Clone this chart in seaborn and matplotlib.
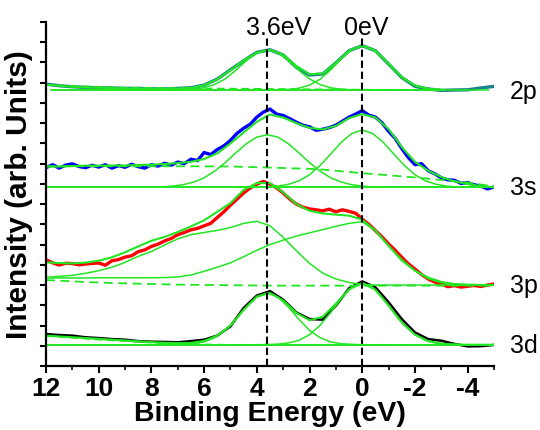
import numpy as np
import seaborn as sns
import matplotlib.pyplot as plt

# Grilles d'énergie de liaison (eV) sur lesquelles les courbes ont été lues
x_half = np.arange(12, -5.01, -0.5)       # 35 points
x_quarter = np.arange(12, -5.01, -0.25)   # 69 points
offsets = np.arange(4.8, -4.81, -0.4)     # 25 points autour de chaque pic
x_peak36 = 3.6 + offsets
x_peak0 = 0.0 + offsets

# --- 2p ---
data_2p = [13.93, 13.85, 13.80, 13.77, 13.75, 13.74, 13.72, 13.72, 13.70, 13.69,
           13.72, 13.75, 13.88, 14.18, 14.64, 15.09, 15.50, 15.63, 15.37, 14.76,
           14.38, 14.43, 14.98, 15.58, 15.83, 15.58, 14.92, 14.26, 13.82, 13.69,
           13.62, 13.64, 13.65, 13.74, 13.82]
fit_2p = [13.90, 13.85, 13.80, 13.77, 13.75, 13.73, 13.72, 13.71, 13.70, 13.70,
          13.71, 13.74, 13.87, 14.17, 14.62, 15.10, 15.48, 15.62, 15.38, 14.83,
          14.42, 14.45, 14.98, 15.58, 15.83, 15.58, 14.95, 14.28, 13.86, 13.70,
          13.65]
peakA_2p = [13.64, 13.64, 13.64, 13.64, 13.65, 13.68, 13.75, 13.91, 14.19, 14.61,
            15.09, 15.48, 15.63, 15.48, 15.09, 14.61, 14.19, 13.91, 13.75, 13.68,
            13.65, 13.64, 13.64, 13.64, 13.64]
peakB_2p = [13.64, 13.64, 13.64, 13.64, 13.65, 13.67, 13.73, 13.88, 14.17, 14.63,
            15.18, 15.64, 15.83, 15.64, 15.18, 14.63, 14.17, 13.88, 13.73, 13.67,
            13.65, 13.64, 13.64, 13.64, 13.64]
base_2p_x = [11.8, -3.1]
base_2p = [13.64, 13.64]
bg_2p_x = [12, 9, 6, 3.6, 1.8, 0, -2.5]
bg_2p = [13.88, 13.76, 13.72, 13.70, 13.68, 13.66, 13.64]

# --- 3s ---
data_3s = [9.80, 9.95, 9.78, 9.93, 9.99, 9.86, 9.80, 9.92, 9.83, 9.95,
           9.78, 9.90, 9.82, 9.97, 9.85, 9.78, 9.95, 9.88, 10.02, 9.92,
           10.08, 10.00, 10.22, 10.15, 10.55, 10.45, 10.70, 10.88, 11.15, 11.50,
           11.75, 11.95, 12.30, 12.55, 12.70, 12.45, 12.38, 12.22, 12.05, 11.90,
           11.82, 11.65, 11.70, 11.78, 11.90, 12.10, 12.30, 12.45, 12.62, 12.40,
           12.30, 12.02, 11.60, 11.25, 10.75, 10.30, 9.95, 10.00, 9.65, 9.50,
           9.30, 9.20, 9.18, 9.02, 9.07, 8.95, 8.90, 8.75, 8.85]
fit_3s = [9.85, 9.86, 9.88, 9.90, 9.90, 9.91, 9.91, 9.93, 9.95, 9.98,
          10.03, 10.09, 10.23, 10.51, 11.00, 11.54, 12.07, 12.43, 12.28, 12.00,
          11.77, 11.69, 11.87, 12.25, 12.45, 12.28, 11.71, 10.82, 10.09, 9.65,
          9.34, 9.12, 8.99, 8.89, 8.83]
peakA_3s = [8.83, 8.84, 8.85, 8.89, 8.96, 9.09, 9.30, 9.63, 10.05, 10.53,
            10.98, 11.31, 11.43, 11.31, 10.98, 10.53, 10.05, 9.63, 9.30, 9.09,
            8.96, 8.89, 8.85, 8.84, 8.83]
peakB_3s = [8.83, 8.83, 8.84, 8.85, 8.89, 8.98, 9.15, 9.45, 9.91, 10.47,
            11.05, 11.49, 11.66, 11.49, 11.05, 10.47, 9.91, 9.45, 9.15, 8.98,
            8.89, 8.85, 8.84, 8.83, 8.83]
base_3s_x = [12, -5]
base_3s = [8.83, 8.83]
bg_3s_x = [12, 6.5, 5, 3.6, 1.7, 0, -2, -4, -5]
bg_3s = [9.87, 9.87, 9.86, 9.81, 9.73, 9.53, 9.32, 9.07, 8.87]

# --- 3p ---
data_3p = [5.25, 5.10, 4.99, 5.08, 5.06, 5.00, 5.04, 5.07, 5.09, 4.98,
           5.20, 5.26, 5.38, 5.45, 5.65, 5.74, 5.91, 6.02, 6.18, 6.30,
           6.49, 6.60, 6.73, 6.80, 6.93, 7.05, 7.34, 7.62, 7.95, 8.25,
           8.55, 8.80, 8.99, 9.12, 8.99, 8.80, 8.55, 8.25, 8.00, 7.85,
           7.76, 7.72, 7.67, 7.75, 7.62, 7.72, 7.64, 7.55, 7.26, 7.00,
           6.69, 6.38, 6.03, 5.72, 5.37, 5.05, 4.79, 4.52, 4.30, 4.15,
           4.05, 3.92, 3.97, 3.90, 3.94, 3.98, 3.93, 4.00, 4.05]
fit_3p = [5.12, 5.09, 5.07, 5.11, 5.20, 5.37, 5.62, 5.91, 6.19, 6.38,
          6.62, 6.90, 7.20, 7.62, 8.05, 8.70, 9.04, 9.04, 8.58, 8.00,
          7.67, 7.54, 7.48, 7.43, 7.23, 6.69, 5.94, 5.25, 4.71, 4.33,
          4.13, 4.05, 4.02, 4.00, 4.00]
peakA_3p = [4.38, 4.43, 4.48, 4.58, 4.71, 4.88, 5.12, 5.42, 5.66, 5.98,
            6.28, 6.49, 6.60, 6.70, 6.84, 7.05, 7.15, 6.93, 6.36, 5.70,
            5.07, 4.59, 4.30, 4.13, 4.03, 4.00, 4.00, 4.00, 4.00, 4.00,
            4.00, 4.00, 4.00, 4.00, 4.00]
peakB_3p = [4.35, 4.35, 4.35, 4.35, 4.36, 4.36, 4.36, 4.36, 4.36, 4.37,
            4.40, 4.50, 4.68, 4.88, 5.10, 5.40, 5.72, 6.00, 6.22, 6.42,
            6.58, 6.74, 6.90, 7.05, 7.13, 6.69, 5.94, 5.20, 4.71, 4.38,
            4.17, 4.05, 4.00, 4.00, 4.00]
bg_3p_x = [12, 10.8, 9.5, 7, 3.3, -5]
bg_3p = [4.25, 4.17, 4.10, 4.02, 3.97, 3.97]

# --- 3d ---
data_3d = [1.58, 1.53, 1.50, 1.42, 1.38, 1.33, 1.30, 1.23, 1.20, 1.19,
           1.17, 1.23, 1.30, 1.50, 1.96, 2.87, 3.48, 3.70, 3.28, 2.65,
           2.32, 2.29, 2.98, 3.84, 4.18, 3.89, 3.15, 2.32, 1.66, 1.33,
           1.25, 1.09, 0.97, 0.98, 1.04]
fit_3d = [1.50, 1.46, 1.42, 1.38, 1.34, 1.30, 1.26, 1.22, 1.18, 1.15,
          1.13, 1.14, 1.24, 1.50, 2.00, 2.78, 3.43, 3.61, 3.24, 2.63,
          2.26, 2.43, 3.08, 3.79, 4.10, 3.77, 2.99, 2.15, 1.55, 1.23,
          1.10, 1.06, 1.05, 1.05, 1.05]
peakA_3d = [1.05, 1.05, 1.05, 1.05, 1.07, 1.10, 1.19, 1.40, 1.76, 2.30,
            2.91, 3.41, 3.61, 3.41, 2.91, 2.30, 1.76, 1.40, 1.19, 1.10,
            1.07, 1.05, 1.05, 1.05, 1.05]
peakB_3d = [1.05, 1.05, 1.05, 1.06, 1.08, 1.14, 1.27, 1.55, 2.01, 2.64,
            3.33, 3.89, 4.10, 3.89, 3.33, 2.64, 2.01, 1.55, 1.27, 1.14,
            1.08, 1.06, 1.05, 1.05, 1.05]
base_3d_x = [12, -5]
base_3d = [1.05, 1.05]
bg_3d_x = [12, 10, 8, 6.5, 5, -5]
bg_3d = [1.48, 1.30, 1.15, 1.08, 1.05, 1.05]

# Étiquettes
orbitals = ['2p', '3s', '3p', '3d']
orbital_y = [13.24, 8.50, 3.66, 0.69]
peak_positions = [3.6, 0.0]
peak_labels = ['3.6eV', '0eV']
peak_label_x = [3.18, -0.16]
xtick_values = [12, 10, 8, 6, 4, 2, 0, -2, -4]
xtick_labels = ['12', '10', '8', '6', '4', '2', '0', '-2', '-4']

# Style
sns.set_style('ticks')
plt.rcParams['font.family'] = ['Liberation Sans', 'DejaVu Sans']
plt.rcParams['text.color'] = 'black'
plt.rcParams['axes.labelcolor'] = 'black'

GREEN = '#22E622'
TEAL = '#1A7F8F'

fig = plt.figure(figsize=(5.4, 4.31), dpi=100)
ax = fig.add_axes([0.0852, 0.1485, 0.8296, 0.7981])


def trace(x, y, color, lw, **kw):
    sns.lineplot(x=np.asarray(x), y=np.asarray(y), ax=ax, color=color, lw=lw,
                 sort=False, estimator=None, **kw)


# Données expérimentales
trace(x_half, data_2p, TEAL, 2.4)
trace(x_quarter, data_3s, '#0000FF', 2.4)
trace(x_quarter, data_3p, '#FF0000', 2.4)
trace(x_half, data_3d, 'black', 1.8)

# Ajustements (verts)
trace(x_half[:len(fit_2p)], fit_2p, GREEN, 1.5)
trace(x_peak36, peakA_2p, GREEN, 1.1)
trace(x_peak0, peakB_2p, GREEN, 1.1)
trace(base_2p_x, base_2p, GREEN, 1.4)
trace(bg_2p_x, bg_2p, GREEN, 1.1, dashes=(5, 3))

trace(x_half, fit_3s, GREEN, 1.5)
trace(x_peak36, peakA_3s, GREEN, 1.1)
trace(x_peak0, peakB_3s, GREEN, 1.1)
trace(base_3s_x, base_3s, GREEN, 1.4)
trace(bg_3s_x, bg_3s, GREEN, 1.3, dashes=(5, 3))

trace(x_half, fit_3p, GREEN, 1.5)
trace(x_half, peakA_3p, GREEN, 1.1)
trace(x_half, peakB_3p, GREEN, 1.1)
trace(bg_3p_x, bg_3p, GREEN, 1.3, dashes=(5, 3))

trace(x_half, fit_3d, GREEN, 1.5)
trace(x_peak36, peakA_3d, GREEN, 1.1)
trace(x_peak0, peakB_3d, GREEN, 1.1)
trace(base_3d_x, base_3d, GREEN, 1.4)
trace(bg_3d_x, bg_3d, GREEN, 1.1, dashes=(5, 3))

# Lignes verticales aux positions des pics
for xp, lab, xl in zip(peak_positions, peak_labels, peak_label_x):
    ax.plot([xp, xp], [0, 16.2], color='black', lw=1.5, dashes=(3.5, 1.8), zorder=5)
    ax.text(xl, 16.4, lab, ha='center', va='baseline', fontsize=18,
            color='black', clip_on=False)

for lab, yy in zip(orbitals, orbital_y):
    ax.text(-5.6, yy, lab, ha='left', va='baseline', fontsize=18,
            color='black', clip_on=False)

ax.set_xlim(12, -5)
ax.set_ylim(0, 17)
ax.set_xticks(xtick_values)
ax.set_xticklabels(xtick_labels, fontweight='bold')
ax.set_xticks([11, 9, 7, 5, 3, 1, -1, -3, -5], minor=True)
ax.set_yticks(range(18))
ax.set_yticklabels([])

sns.despine(ax=ax)
for side in ['left', 'bottom']:
    ax.spines[side].set_linewidth(1.6)
    ax.spines[side].set_color('black')

ax.tick_params(axis='x', which='major', direction='out', length=5, width=1.5,
               labelsize=19, pad=2, colors='black')
ax.tick_params(axis='x', which='minor', direction='out', length=3, width=1.2,
               colors='black')
ax.tick_params(axis='y', which='major', direction='out', length=4, width=1.5,
               colors='black')

ax.set_xlabel('Binding Energy (eV)', fontsize=20.5, fontweight='bold',
              labelpad=0, color='black')
ax.set_ylabel('Intensity (arb. Units)', fontsize=21.5, fontweight='bold',
              labelpad=2, color='black')

plt.savefig('out.png', dpi=100)
